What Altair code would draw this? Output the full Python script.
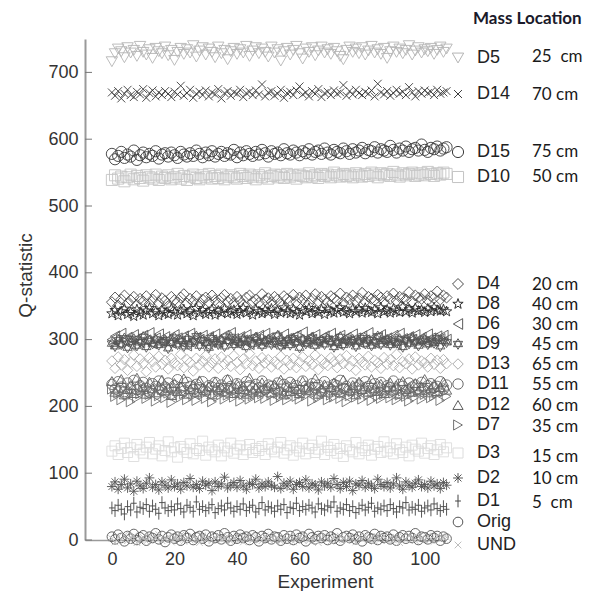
import altair as alt
import pandas as pd

# ---------------- data ----------------
EXPERIMENT = list(range(0, 108))
SERIES = ["D5", "D14", "D15", "D10", "D4", "D8", "D6", "D9", "D13",
          "D11", "D12", "D7", "D3", "D2", "D1", "Orig", "UND"]
LOCATION = ["25\u00a0\u00a0cm", "70 cm", "75 cm", "50 cm", "20 cm", "40 cm", "30 cm",
            "45 cm", "65 cm", "55 cm", "60 cm", "35 cm", "15 cm", "10 cm", "5\u00a0\u00a0cm"]

D5 = [716,728,735,731,722,737,729,733,724,739,730,726,734,721,736,731,728,738,725,733,
      718,730,736,727,734,729,740,723,732,737,726,735,730,722,738,728,733,719,731,736,
      727,734,729,739,724,732,737,728,735,730,723,738,729,734,717,731,736,726,733,739,
      728,720,735,730,737,725,732,738,729,734,727,736,731,724,719,733,738,730,735,728,
      737,726,732,739,729,734,727,736,721,731,738,730,735,728,733,740,726,732,737,729,
      734,731,736,727,733,738,730,735]
D14 = [670,665,672,661,668,674,666,663,671,667,675,662,669,673,664,670,666,672,668,663,
       671,667,680,665,669,674,662,668,671,666,673,664,670,667,675,661,669,672,665,670,
       668,674,663,669,671,666,673,667,682,664,670,672,665,668,674,662,669,671,666,673,
       679,667,670,664,672,668,675,663,669,671,666,673,668,670,681,665,672,667,674,669,
       666,671,668,673,664,683,670,667,672,665,669,674,668,671,666,678,670,664,672,668,
       673,669,671,666,674,668,670,672]
D15 = [578,570,575,581,572,577,574,583,569,576,580,573,578,575,582,571,577,579,574,580,
       576,572,581,577,574,579,575,583,578,573,580,576,582,574,578,581,575,579,577,584,
       573,580,576,582,578,575,581,577,584,579,574,582,578,580,576,585,579,577,583,580,
       576,582,579,585,577,581,583,578,586,580,577,584,581,579,586,582,578,585,580,583,
       587,579,584,582,588,580,585,583,581,590,584,580,586,583,589,581,585,587,583,592,
       584,581,587,585,589,583,586,588]
D10 = [539,546,541,544,537,543,547,540,545,542,538,546,543,541,547,539,544,542,546,540,
       543,548,541,545,539,544,547,542,540,546,543,548,541,545,542,547,540,544,546,543,
       541,548,545,542,547,544,540,546,543,549,541,545,547,543,546,542,548,544,546,541,
       547,545,543,549,544,546,542,548,545,547,543,550,546,544,548,545,547,543,549,546,
       544,548,545,550,547,543,549,546,548,545,551,547,544,549,546,548,550,545,547,549,
       546,551,548,545,549,547,550,548]
D4 = [356,363,351,360,366,354,359,364,352,361,357,365,353,360,367,355,362,358,350,364,
      359,356,363,368,354,361,357,365,352,360,363,356,366,359,354,362,367,357,361,355,
      364,358,352,363,366,357,360,355,368,359,362,356,364,360,353,365,361,358,367,356,
      363,359,366,354,361,368,357,364,360,356,365,362,358,369,355,363,360,366,358,362,
      370,357,364,361,359,367,363,356,365,361,369,358,364,362,360,371,357,366,363,361,
      368,359,365,362,372,360,366,363]
D8 = [339,344,336,342,346,338,341,335,345,340,337,343,347,339,342,336,344,340,338,346,
      341,337,343,345,339,342,336,347,340,344,338,341,345,337,343,340,346,339,342,344,
      338,341,347,340,343,337,345,342,339,344,341,346,338,343,340,348,342,339,345,341,
      337,344,342,347,339,343,341,345,338,346,342,340,344,348,341,343,339,346,342,345,
      340,347,343,341,345,339,348,342,344,340,346,343,341,349,342,345,340,347,343,344,
      341,346,342,348,344,343,345,342]
D6 = [300,305,295,309,298,303,292,307,301,296,306,299,310,294,302,308,297,304,300,295,
      307,302,297,305,291,309,298,303,300,306,293,304,299,308,296,302,306,298,310,301,
      295,304,299,307,293,303,300,306,297,309,302,296,305,300,294,308,301,297,304,306,
      299,311,295,303,300,307,297,302,305,298,309,301,294,306,300,303,297,308,302,296,
      305,299,310,301,295,304,307,298,302,300,306,293,309,301,297,304,300,307,299,303,
      296,308,302,298,305,301,306,300]
D9 = [294,290,299,293,302,288,297,301,291,296,304,289,298,294,300,292,296,299,287,295,
      303,293,298,290,301,294,297,305,291,299,295,288,302,296,293,300,290,298,304,292,
      297,295,301,289,299,294,303,296,291,298,300,293,297,306,290,295,299,292,302,296,
      288,300,294,298,303,291,296,299,293,301,297,289,295,304,292,298,296,300,290,297,
      302,294,299,291,296,305,293,298,300,292,297,295,301,289,299,294,303,296,291,298,
      300,293,297,295,302,290,298,296]
D13 = [268,257,274,262,270,254,266,277,260,271,264,252,273,267,259,275,263,269,256,272,
       265,261,278,258,270,266,253,272,262,268,276,259,265,271,257,274,263,269,260,276,
       266,255,271,264,279,261,268,257,273,265,270,259,267,263,275,256,269,262,272,258,
       266,274,260,268,263,277,255,270,264,261,273,267,258,271,264,276,260,268,254,272,
       266,262,275,259,269,265,257,273,263,270,261,278,258,267,264,271,256,274,262,268,
       265,259,272,263,269,257,270,264]
D11 = [233,226,237,229,222,235,228,239,225,231,236,227,221,234,230,238,224,229,235,226,
       231,240,228,223,236,230,225,233,228,237,223,231,229,236,227,232,224,239,230,226,
       234,229,222,237,231,227,233,228,238,225,232,230,226,235,221,233,229,236,227,231,
       224,238,230,226,234,228,232,222,237,229,225,233,231,239,227,230,224,235,228,232,
       226,237,230,223,234,229,236,225,231,228,238,226,233,230,224,235,229,232,227,236,
       225,231,234,228,230,237,226,232]
D12 = [238,222,228,241,218,226,232,220,243,225,229,219,237,227,221,231,240,224,228,217,
       235,223,230,242,219,226,233,221,239,228,224,230,218,237,225,229,222,241,227,220,
       234,226,231,219,243,224,228,222,236,227,230,221,233,225,240,218,229,223,235,226,
       220,238,228,224,231,242,219,227,233,222,229,236,225,221,240,228,224,232,218,237,
       226,230,222,241,227,223,234,220,229,236,225,231,219,238,226,228,222,235,224,230,
       241,221,227,233,223,229,237,225]
D7 = [226,215,220,210,224,217,207,221,213,219,227,212,218,223,208,216,225,213,220,206,
      217,223,214,219,210,225,216,209,221,218,212,224,207,219,215,222,211,217,226,214,
      220,208,218,223,211,216,221,213,219,212,225,217,209,220,214,222,210,218,224,215,
      211,219,216,226,208,221,213,218,223,210,217,214,225,212,220,207,216,222,214,219,
      211,224,217,209,221,215,212,218,226,213,220,210,217,223,215,208,219,214,222,211,
      218,224,213,216,220,209,221,215]
D3 = [133,141,128,137,145,131,138,125,143,135,130,139,146,129,136,141,126,134,147,132,
      138,124,140,136,131,144,129,137,134,148,127,139,135,132,142,126,138,133,145,130,
      136,141,128,135,143,131,137,134,140,128,144,136,132,139,146,130,135,141,127,138,
      133,145,129,137,142,131,136,148,128,139,134,143,130,137,125,141,135,132,146,129,
      138,134,142,127,136,140,131,147,133,138,129,144,135,131,139,126,142,136,133,145,
      130,137,141,128,135,143,132,138]
D2 = [80,87,76,83,91,78,84,73,88,81,77,85,93,79,83,75,87,82,78,90,
      80,84,76,86,81,92,79,83,77,88,82,85,74,87,80,84,94,78,82,86,
      79,89,81,76,85,83,91,78,84,80,87,82,79,95,77,85,81,88,76,83,
      86,80,90,78,84,82,75,87,81,85,79,92,83,77,86,80,88,74,84,82,
      89,79,85,81,77,91,83,80,86,78,84,93,81,76,87,82,79,85,90,80,
      83,78,88,81,84,77,86,82]
D1 = [48,44,52,46,39,50,45,55,42,49,47,53,43,51,46,40,56,48,44,50,
      45,54,47,42,52,49,43,57,46,50,44,48,53,41,47,51,45,55,48,43,
      50,46,54,44,49,52,42,47,56,45,50,48,43,51,46,53,41,49,47,55,
      44,50,46,52,48,42,54,47,45,51,49,57,43,48,46,53,44,50,41,47,
      52,45,49,55,43,48,46,51,44,53,47,42,50,48,56,45,49,46,52,43,
      48,51,45,54,47,44,50,46]
ORIG = [5,1,8,3,-2,6,2,9,0,4,7,-1,5,3,10,1,6,-3,4,8,
        2,5,-1,7,3,9,0,4,6,2,8,-2,5,3,7,1,10,4,-1,6,
        2,8,3,5,0,7,4,-2,6,3,9,1,5,4,-1,7,2,6,0,8,
        3,5,-2,9,4,1,6,3,7,0,5,2,10,-1,4,6,3,8,1,5,
        -2,7,4,2,9,0,6,3,5,1,8,-1,4,7,2,6,3,10,0,5,
        4,1,7,3,6,-1,5,2]
UND = [2,-3,5,0,7,-1,3,6,-4,1,4,-2,6,0,3,8,-1,2,5,-3,
       4,1,7,-2,3,0,5,2,-4,6,1,3,-1,4,7,0,2,5,-2,3,
       6,1,-3,4,2,0,5,3,-1,6,2,4,0,3,-2,5,1,7,-3,2,
       4,0,6,-1,3,5,-4,2,7,1,-2,4,0,6,3,-1,5,2,-3,4,
       1,7,0,3,-2,5,2,6,-1,4,0,3,-4,5,1,7,2,-1,4,3,
       0,6,2,-2,5,1,3,4]

VALUES = [D5, D14, D15, D10, D4, D8, D6, D9, D13, D11, D12, D7, D3, D2, D1, ORIG, UND]
Y_TICKS = [0, 100, 200, 300, 400, 500, 600, 700]
X_TICKS = [0, 20, 40, 60, 80, 100]

# ---------------- styles ----------------
STAR5 = "M0,-1L0.235,-0.324L0.951,-0.309L0.38,0.124L0.588,0.809L0,0.4L-0.588,0.809L-0.38,0.124L-0.951,-0.309L-0.235,-0.324Z"
HEX = "M0,-1L0.866,0.5L-0.866,0.5ZM0,1L0.866,-0.5L-0.866,-0.5Z"
ASTER = "M-1,0L1,0M0,-1L0,1M-0.7,-0.7L0.7,0.7M-0.7,0.7L0.7,-0.7"
PLUS_TALL = "M-0.6,0L0.6,0M0,-1.3L0,1.3"
XMARK = "M-0.7,-0.7L0.7,0.7M-0.7,0.7L0.7,-0.7"
SHAPES = ["triangle-down", XMARK, "circle", "square", "diamond", STAR5, "triangle-left", HEX, "diamond",
          "circle", "triangle-up", "triangle-right", "square", ASTER, PLUS_TALL, "circle", XMARK]
COLORS = ["#b4b4b4", "#3a3a3a", "#3a3a3a", "#c4c4c4", "#4a4a4a", "#2a2a2a", "#5a5a5a", "#555555", "#ababab",
          "#6a6a6a", "#5c5c5c", "#707070", "#dcdcdc", "#555555", "#454545", "#555555", "#bdbdbd"]
SIZES = [130, 90, 110, 110, 100, 100, 100, 90, 100, 100, 100, 100, 110, 90, 130, 100, 70]

W, H = 360, 501
YMAX = 750
# legend layout (pixel rows from plot top)
NAME_ROW_PX = [19, 55, 113, 138, 245, 265, 285, 305, 325, 345, 366, 386, 414, 439, 462, 483, 506]
LOC_ROW_PX = [18, 56, 113, 138, 246, 266, 286, 306, 326, 346, 367, 388, 418, 440, 464]


def px_to_q(p):
    return (H - p) * YMAX / H


rows = []
for s, vals in zip(SERIES, VALUES):
    for x, q in zip(EXPERIMENT, vals):
        rows.append({"experiment": x, "q": q, "series": s})
df = pd.DataFrame(rows)

leg = pd.DataFrame({"series": SERIES, "ly": [px_to_q(p) for p in NAME_ROW_PX]})
loc = pd.DataFrame({"loc": LOCATION, "ly": [px_to_q(p) for p in LOC_ROW_PX]})
ticks = pd.DataFrame({"t": Y_TICKS})

shape_scale = alt.Scale(domain=SERIES, range=SHAPES)
color_scale = alt.Scale(domain=SERIES, range=COLORS)
size_scale = alt.Scale(domain=SERIES, range=SIZES)

x_enc = alt.X("experiment:Q", scale=alt.Scale(domain=[-8.6, 106.5], nice=False, zero=False),
              axis=alt.Axis(values=X_TICKS, title="Experiment", grid=False, ticks=False,
                            domainColor="#9a9a9a", domainWidth=1.5, labelPadding=10,
                            labelFont="Liberation Sans", labelFontSize=18, labelColor="#333",
                            titleFont="Liberation Sans", titleFontSize=19, titleFontWeight="normal",
                            titleColor="#333", titleX=240, titleY=41, titleBaseline="middle"))
y_enc = alt.Y("q:Q", scale=alt.Scale(domain=[0, YMAX], nice=False, zero=False),
              axis=alt.Axis(values=Y_TICKS, title="Q-statistic", grid=False, ticks=False,
                            domainColor="#9a9a9a", domainWidth=2, labelPadding=7,
                            labelFont="Liberation Sans", labelFontSize=18, labelColor="#333",
                            titleFont="Liberation Sans", titleFontSize=19, titleFontWeight="normal",
                            titleColor="#333", titleX=-60, titleY=236, titleAlign="center",
                            titleBaseline="middle"))

points = alt.Chart(df).mark_point(filled=False, strokeWidth=0.9, opacity=1).encode(
    x=x_enc, y=y_enc,
    shape=alt.Shape("series:N", scale=shape_scale, legend=None),
    color=alt.Color("series:N", scale=color_scale, legend=None),
    size=alt.Size("series:N", scale=size_scale, legend=None),
)

inner_ticks = alt.Chart(ticks).mark_rule(color="#777", strokeWidth=1).encode(
    x=alt.value(0), x2=alt.value(7), y=alt.Y("t:Q")
)

leg_sym = alt.Chart(leg).mark_point(filled=False, strokeWidth=1, opacity=1).encode(
    x=alt.value(373), y=alt.Y("ly:Q"),
    shape=alt.Shape("series:N", scale=shape_scale, legend=None),
    color=alt.Color("series:N", scale=color_scale, legend=None),
    size=alt.Size("series:N", scale=size_scale, legend=None),
)
leg_name = alt.Chart(leg).mark_text(align="left", baseline="middle", font="Liberation Sans",
                                    fontSize=18, color="#222").encode(
    x=alt.value(392), y=alt.Y("ly:Q"), text="series:N")
leg_loc = alt.Chart(loc).mark_text(align="left", baseline="middle", font="Lato",
                                   fontSize=17, color="#1a1a1a").encode(
    x=alt.value(447), y=alt.Y("ly:Q"), text="loc:N")
leg_title = alt.Chart(pd.DataFrame({"t": ["Mass Location"], "ly": [px_to_q(-20)]})).mark_text(
    align="left", baseline="middle", font="Lato", fontSize=17, fontWeight="bold", color="#1a1a2a").encode(
    x=alt.value(388), y=alt.Y("ly:Q"), text="t:N")

chart = alt.layer(inner_ticks, points, leg_sym, leg_name, leg_loc, leg_title).properties(
    width=W, height=H,
    padding={"left": 77, "top": 31, "right": 147, "bottom": 51},
    autosize=alt.AutoSizeParams(type="none"),
).configure_view(stroke=None)

chart.save("out.html", embed_options={"renderer": "svg", "actions": False})
